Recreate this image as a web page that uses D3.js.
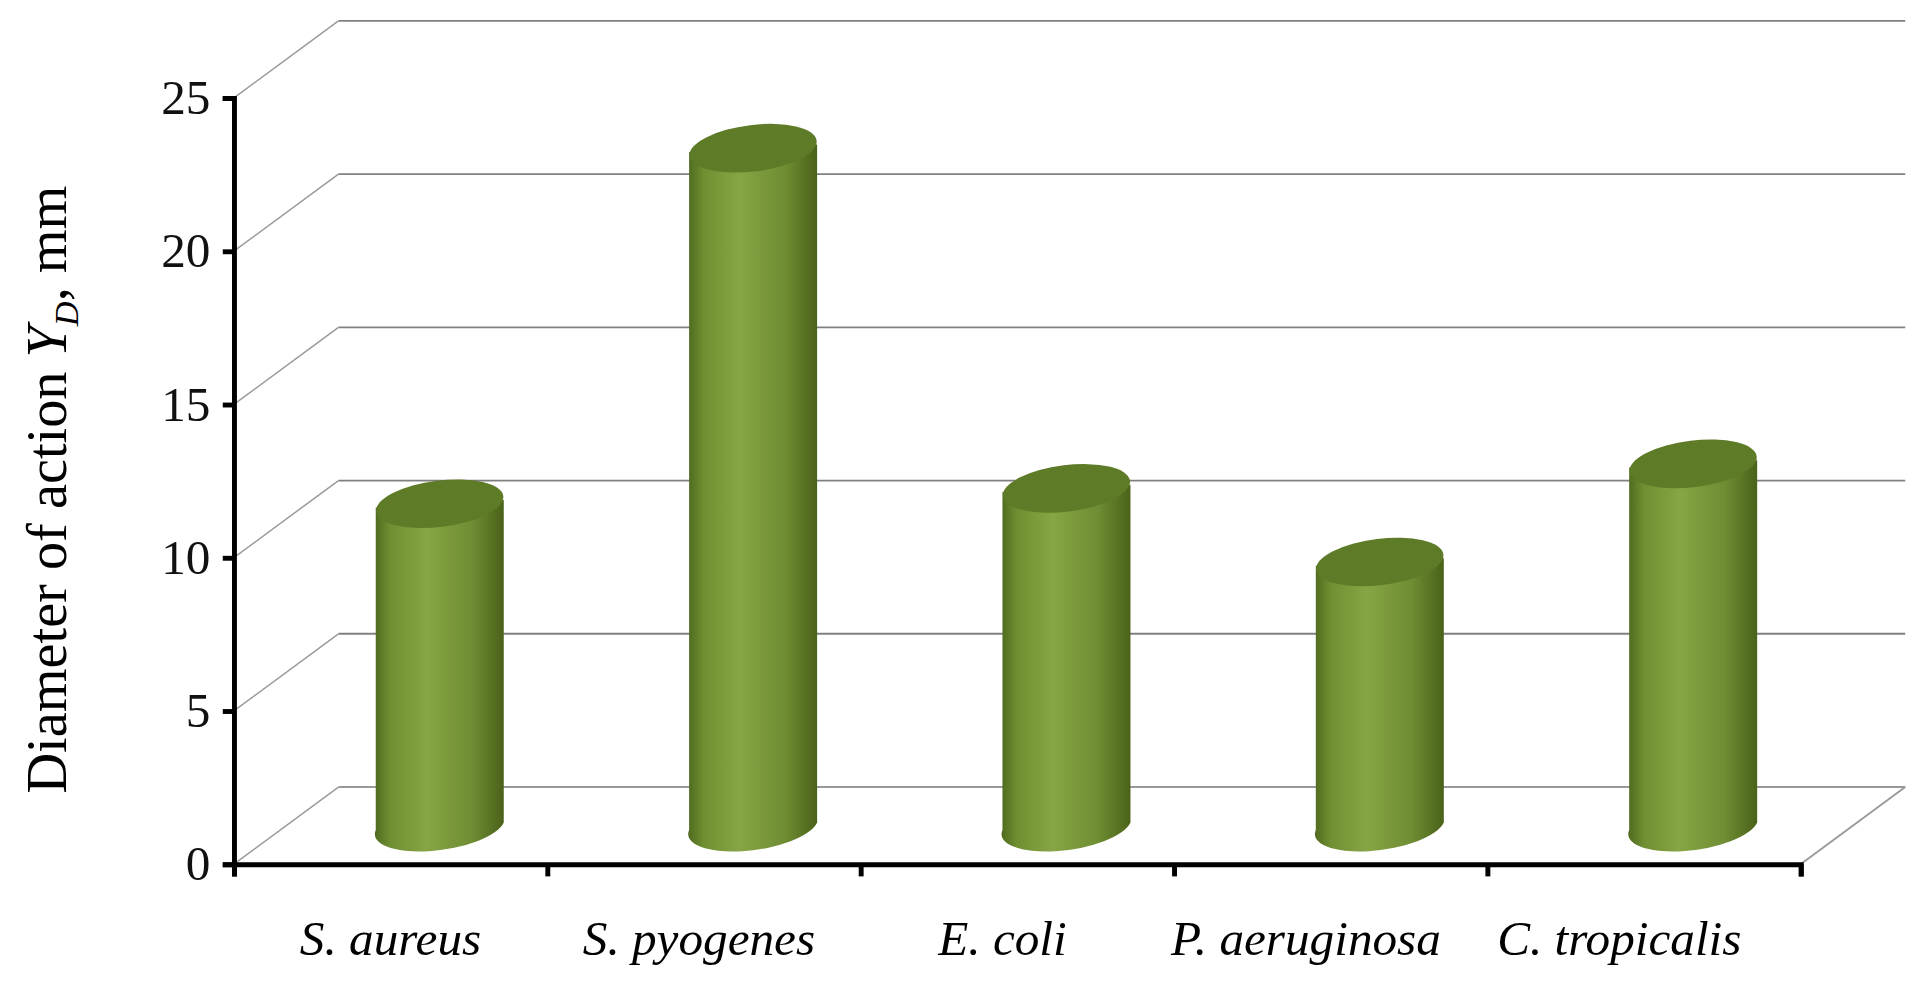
<!DOCTYPE html>
<html><head><meta charset="utf-8">
<script src="https://cdn.jsdelivr.net/npm/d3@7/dist/d3.min.js"></script>
<style>body{margin:0;background:#fff}</style></head>
<body><svg id="c" width="1920" height="989" viewBox="0 0 1560 808" preserveAspectRatio="none"></svg>
<script>
const categories = ["S. aureus","S. pyogenes","E. coli","P. aeruginosa","C. tropicalis"];
const values = [11.0, 22.6, 11.5, 9.1, 12.3];
const yTicks = [0,5,10,15,20,25];

const svg = d3.select("#c");
const x0 = 190, x1 = 1463, dx = 85, dy = -63;
const y = d3.scaleLinear().domain([0,25]).range([706,80]);
const xb = d3.scaleBand().domain(categories).range([x0,x1]);

const defs = svg.append("defs");
const g = defs.append("linearGradient").attr("id","cyl");
[[0,"#4f6a1e"],[0.12,"#6f8f32"],[0.4,"#86a544"],[0.75,"#6f8d33"],[1,"#4a6219"]]
  .forEach(([o,c])=>g.append("stop").attr("offset",o).attr("stop-color",c));

yTicks.forEach(t=>{
  const yy = y(t);
  if (t>0) svg.append("line").attr("x1",x0+dx).attr("x2",1548).attr("y1",yy+dy).attr("y2",yy+dy).attr("stroke","#808080").attr("stroke-width",1.5);
  svg.append("line").attr("x1",x0).attr("y1",yy).attr("x2",x0+dx).attr("y2",yy+dy).attr("stroke","#999").attr("stroke-width",1.2);
});
svg.append("line").attr("x1",x0+dx).attr("x2",1548).attr("y1",y(0)+dy).attr("y2",y(0)+dy).attr("stroke","#999").attr("stroke-width",1.5);
svg.append("line").attr("x1",x0).attr("x2",x1).attr("y1",y(0)).attr("y2",y(0)).attr("stroke","#aaa").attr("stroke-width",1.5);
svg.append("line").attr("x1",x1).attr("y1",y(0)).attr("x2",1548).attr("y2",y(0)+dy).attr("stroke","#999").attr("stroke-width",1.5);

const base0 = y(0) + dy/3 + 2;
const base = base0 - 12;
const ry = 19, rx = 52;
categories.forEach((c,i)=>{
  const cx = xb(c) + xb.bandwidth()/2 + 40;
  const top = base0 - (y(0)-y(values[i]));
  const grp = svg.append("g");
  grp.append("path").attr("d",`M${cx-rx},${top+3} L${cx-rx},${base+3} A${rx},${ry} -8 0 0 ${cx+rx},${base-3} L${cx+rx},${top-3} Z`).attr("fill","url(#cyl)");
  grp.append("ellipse").attr("cx",cx).attr("cy",top).attr("rx",rx).attr("ry",ry)
    .attr("transform",`rotate(-7,${cx},${top})`).attr("fill","#5e7b28");
});

svg.append("g").attr("transform",`translate(${x0},0)`)
  .call(d3.axisLeft(y).tickValues(yTicks).tickSize(9).tickPadding(10))
  .call(a=>{a.select(".domain").attr("stroke","#000").attr("stroke-width",4);
    a.selectAll(".tick line").attr("stroke","#000").attr("stroke-width",4);
    a.selectAll("text").attr("font-family","Liberation Serif").attr("font-size",40).attr("fill","#111");});
const xt = d3.scaleLinear().domain([0,5]).range([x0,x1]);
svg.append("g").attr("transform",`translate(0,${y(0)})`)
  .call(d3.axisBottom(xt).ticks(5).tickSize(10).tickFormat(""))
  .call(a=>{a.select(".domain").attr("stroke","#000").attr("stroke-width",4);
    a.selectAll(".tick line").attr("stroke","#000").attr("stroke-width",4);});
const labelShift = [0,-4,-12,-20,-20];
categories.forEach((c,i)=>{
  svg.append("text").attr("x",xb(c)+xb.bandwidth()/2+labelShift[i]).attr("y",780).attr("text-anchor","middle")
   .attr("font-family","Liberation Serif").attr("font-style","italic").attr("font-size",40).text(c);
});
svg.append("text").attr("transform","translate(54,400) rotate(-90)").attr("text-anchor","middle")
  .attr("font-family","Liberation Serif").attr("font-size",46)
  .html('Diameter of action <tspan font-style="italic">Y</tspan><tspan font-style="italic" font-size="28" dy="9">D</tspan><tspan dy="-9">, mm</tspan>');
</script></body></html>
